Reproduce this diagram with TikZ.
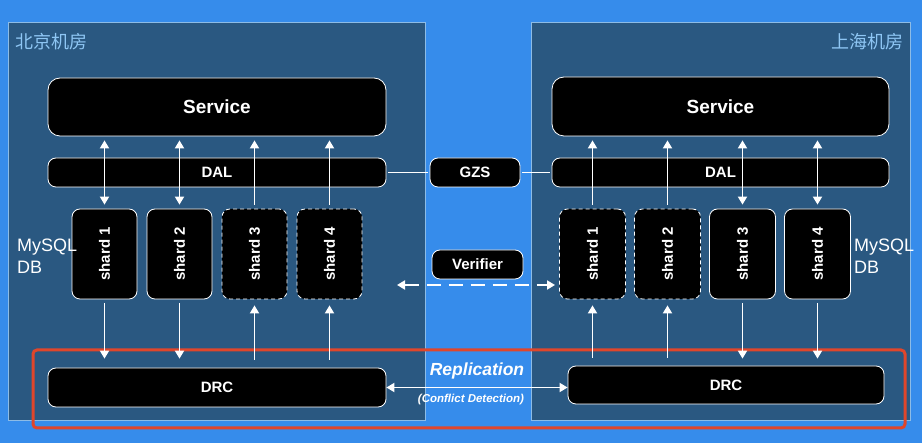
\documentclass[tikz,border=0pt]{standalone}
\usepackage{fontspec}
\setmainfont{Liberation Sans}
\newfontfamily\cjk{Noto Sans CJK SC}
\usepackage{graphicx}
\usetikzlibrary{arrows.meta}
\definecolor{bgblue}{HTML}{368CEB}
\definecolor{roomblue}{HTML}{2A5881}
\definecolor{roomline}{HTML}{8DBCE6}
\definecolor{roomtext}{HTML}{8EC6F4}
\definecolor{hlred}{HTML}{E0462B}

\tikzset{
  box/.style={draw=white,fill=black,text=white,line width=0.8pt,rounded corners=8pt,inner sep=0pt,
    font=\bfseries\fontsize{15}{18}\selectfont},
  shardbox/.style={box,minimum width=65pt,minimum height=90pt},
  dashshard/.style={shardbox,dash pattern=on 4pt off 3pt},
  link/.style={white,line width=1.8pt,shorten <=4pt,shorten >=4pt},
  dbtext/.style={white,font=\fontsize{18}{22}\selectfont,align=left,inner sep=0pt},
  roomtitle/.style={roomtext,font=\cjk\fontsize{18}{22}\selectfont,inner sep=0pt}
}

\begin{document}
\begin{tikzpicture}[x=1pt,y=-1pt,>={Triangle[width=9pt,length=8pt]}]
\useasboundingbox (0,0) rectangle (922,443);
\fill[bgblue] (0,0) rectangle (922,443);

%rooms
\draw[roomline,fill=roomblue,line width=0.6pt] (8,22) rectangle (425,420);
\draw[roomline,fill=roomblue,line width=0.6pt] (531,22) rectangle (910,420);
\node[roomtitle,anchor=west] (bjroom) at (15,42) {北京机房};
\node[roomtitle,anchor=east] (shroom) at (904,42) {上海机房};

%highlight
\draw[hlred,line width=3pt,rounded corners=4pt] (33,350) rectangle (905,428);

%left side
\node[box,rounded corners=12pt,minimum width=338pt,minimum height=58pt,font=\bfseries\fontsize{19}{22}\selectfont] (servL) at (217,107) {Service};
\node[box,minimum width=338pt,minimum height=29pt] (dalL) at (217,172.5) {DAL};
\node[shardbox] (shL1) at (104.5,254) {\rotatebox{90}{shard 1}};
\node[shardbox] (shL2) at (179.5,254) {\rotatebox{90}{shard 2}};
\node[dashshard] (shL3) at (254.5,254) {\rotatebox{90}{shard 3}};
\node[dashshard] (shL4) at (329.5,254) {\rotatebox{90}{shard 4}};
\node[box,minimum width=338pt,minimum height=39pt] (drcL) at (217,387.5) {DRC};
\node[dbtext,anchor=west] (dbL) at (17,256) {MySQL\\DB};

%right side
\node[box,rounded corners=12pt,minimum width=337pt,minimum height=59pt,font=\bfseries\fontsize{19}{22}\selectfont] (servR) at (720.5,106.5) {Service};
\node[box,minimum width=337pt,minimum height=29pt] (dalR) at (720.5,172.5) {DAL};
\node[dashshard,minimum width=66pt] (shR1) at (592.5,254) {\rotatebox{90}{shard 1}};
\node[dashshard,minimum width=66pt] (shR2) at (667.5,254) {\rotatebox{90}{shard 2}};
\node[shardbox,minimum width=66pt] (shR3) at (742.5,254) {\rotatebox{90}{shard 3}};
\node[shardbox,minimum width=66pt] (shR4) at (817.5,254) {\rotatebox{90}{shard 4}};
\node[box,minimum width=316pt,minimum height=38pt] (drcR) at (726,385) {DRC};
\node[dbtext,anchor=west] (dbR) at (854,256) {MySQL\\DB};

%middle
\node[box,minimum width=90pt,minimum height=29pt] (gzs) at (475,172.5) {GZS};
\node[box,minimum width=91pt,minimum height=29pt] (verifier) at (477.5,264.5) {Verifier};
\coordinate (verL) at (397,285);
\coordinate (verR) at (555,285);

%arrows service <-> shards
\draw[link,<->] (servL.south -| shL1.north) -- (shL1.north);
\draw[link,<->] (servL.south -| shL2.north) -- (shL2.north);
\draw[link,->] (shL3.north) -- (shL3.north |- servL.south);
\draw[link,->] (shL4.north) -- (shL4.north |- servL.south);
\draw[link,->] (shR1.north) -- (shR1.north |- servR.south);
\draw[link,->] (shR2.north) -- (shR2.north |- servR.south);
\draw[link,<->] (servR.south -| shR3.north) -- (shR3.north);
\draw[link,<->] (servR.south -| shR4.north) -- (shR4.north);

%arrows shards <-> drc
\draw[link,->,shorten >=9pt] (shL1.south) -- (shL1.south |- drcL.north);
\draw[link,->,shorten >=9pt] (shL2.south) -- (shL2.south |- drcL.north);
\draw[link,->,shorten <=8pt,shorten >=6pt] (shL3.south |- drcL.north) -- (shL3.south);
\draw[link,->,shorten <=8pt,shorten >=6pt] (shL4.south |- drcL.north) -- (shL4.south);
\draw[link,->,shorten <=8pt,shorten >=6pt] (shR1.south |- drcR.north) -- (shR1.south);
\draw[link,->,shorten <=8pt,shorten >=6pt] (shR2.south |- drcR.north) -- (shR2.south);
\draw[link,->,shorten >=7pt] (shR3.south) -- (shR3.south |- drcR.north);
\draw[link,->,shorten >=7pt] (shR4.south) -- (shR4.south |- drcR.north);

%gzs
\draw[white,line width=1.5pt,shorten <=2pt,shorten >=2pt] (dalL.east) -- (gzs.west);
\draw[white,line width=1.5pt,shorten <=2pt,shorten >=2pt] (gzs.east) -- (dalR.west);

%verifier
\draw[white,line width=1.8pt,dash pattern=on 14pt off 8pt,<->] (verL) -- (verR);

%replication
\draw[white,line width=1.8pt,<->] (drcL.east) -- (drcL.east -| drcR.west);
\node[white,font=\bfseries\itshape\fontsize{17.5}{20}\selectfont,inner sep=0pt] (repl) at (477,371) {Replication};
\node[white,font=\bfseries\itshape\fontsize{11.5}{14}\selectfont,inner sep=0pt] (conflict) at (471,400) {(Conflict Detection)};
\end{tikzpicture}
\end{document}
